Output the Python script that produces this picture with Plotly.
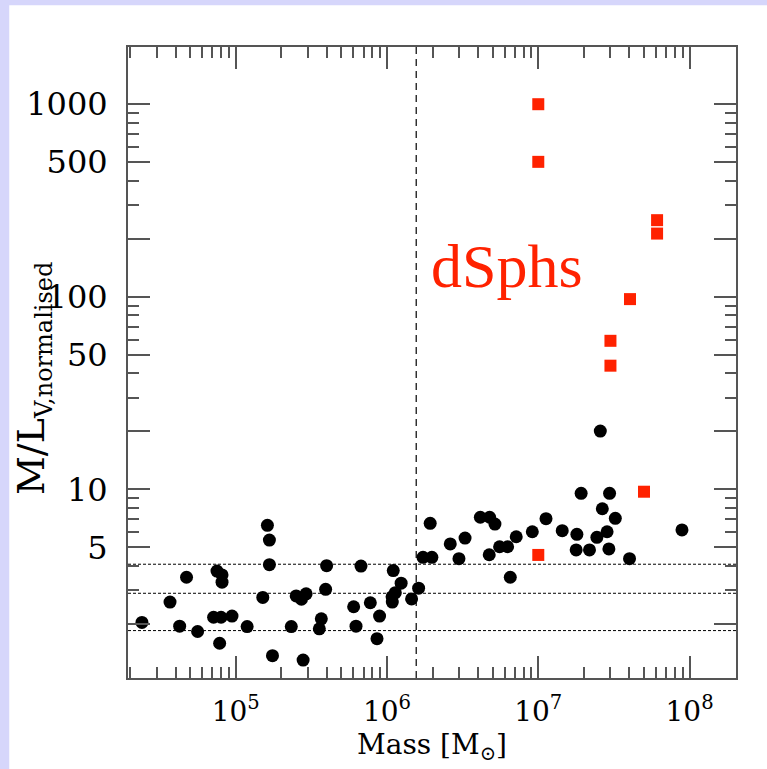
import plotly.graph_objects as go

# star clusters / UCDs (black circles)
cl_mass = [2.40e4, 3.68e4, 4.26e4, 4.73e4, 5.60e4, 7.52e4, 8.12e4, 8.12e4, 7.14e4, 8.0e4,
           9.45e4, 7.83e4, 1.19e5, 1.62e5, 1.67e5, 1.67e5, 1.51e5, 1.75e5, 2.33e5, 2.51e5,
           2.72e5, 2.92e5, 2.79e5, 3.68e5, 3.57e5, 3.99e5, 3.93e5, 6.02e5, 6.24e5, 6.73e5,
           7.76e5, 8.93e5, 8.59e5, 1.10e6, 1.24e6, 1.135e6, 1.08e6, 1.084e6, 1.454e6, 1.618e6,
           1.73e6, 1.98e6, 1.93e6, 2.62e6, 2.99e6, 3.28e6, 4.14e6, 4.77e6, 5.17e6, 4.74e6,
           5.55e6, 6.27e6, 7.15e6, 6.53e6, 9.13e6, 1.125e7, 1.44e7, 1.80e7, 1.92e7, 1.78e7,
           2.18e7, 2.44e7, 2.57e7, 2.65e7, 2.85e7, 2.93e7, 2.96e7, 3.23e7, 4.01e7, 8.91e7]
cl_ml = [2.04, 2.60, 1.95, 3.50, 1.83, 3.77, 3.60, 3.30, 2.17, 2.17,
         2.20, 1.59, 1.94, 6.51, 5.46, 4.07, 2.75, 1.37, 1.94, 2.80,
         2.69, 2.87, 1.30, 2.13, 1.89, 4.02, 3.03, 2.46, 1.95, 4.00,
         2.58, 2.20, 1.68, 3.79, 3.26, 2.91, 2.77, 2.60, 2.70, 3.07,
         4.44, 4.44, 6.67, 5.21, 4.37, 5.59, 7.17, 7.17, 6.61, 4.58,
         5.04, 5.04, 5.68, 3.50, 6.03, 7.05, 6.11, 5.85, 9.55, 4.85,
         4.85, 5.64, 20.1, 7.94, 6.03, 4.91, 9.55, 7.08, 4.37, 6.16]

# dwarf spheroidals (red squares)
dsph_mass = [1.0e7, 1.0e7, 6.1e7, 6.1e7, 4.04e7, 3.0e7, 3.0e7, 5.0e7, 1.0e7]
dsph_ml = [1000, 502, 250, 213, 97.3, 59.1, 43.9, 9.73, 4.57]

# reference lines
hlines_ml = [4.09, 2.89, 1.85]
vline_mass = 1.56e6

x_tick_vals = [1e5, 1e6, 1e7, 1e8]
x_tick_text = ["10<sup>5</sup>", "10<sup>6</sup>", "10<sup>7</sup>", "10<sup>8</sup>"]
y_tick_vals = [2, 5, 10, 20, 50, 100, 200, 500, 1000]
y_tick_text = ["", "5", "10", "", "50", "100", "", "500", "1000"]

x_minor = [m * 10 ** e for e in range(4, 9) for m in range(2, 10)]
y_minor = [m * 10 ** e for e in range(0, 4) for m in (3, 4, 6, 7, 8, 9)]

# axis ranges (log10)
x_range = [4.288, 8.307]
y_range = [0.021, 3.297]

LAV = "#d6d6fb"
AX = "#555555"
RED = "#ff2200"

fig = go.Figure()

# dotted horizontal lines across the full width
for v in hlines_ml:
    fig.add_trace(go.Scatter(x=[10 ** x_range[0], 10 ** x_range[1]], y=[v, v], mode="lines",
                             line=dict(color="black", width=1, dash="3px,2px"),
                             hoverinfo="skip", showlegend=False))
# dashed vertical line
fig.add_trace(go.Scatter(x=[vline_mass, vline_mass], y=[10 ** y_range[0], 10 ** y_range[1]],
                         mode="lines", line=dict(color="black", width=1.2, dash="7px,5px"),
                         hoverinfo="skip", showlegend=False))

fig.add_trace(go.Scatter(x=cl_mass, y=cl_ml, mode="markers",
                         marker=dict(symbol="circle", size=13, color="black"),
                         showlegend=False))
fig.add_trace(go.Scatter(x=dsph_mass, y=dsph_ml, mode="markers",
                         marker=dict(symbol="square", size=12, color=RED),
                         showlegend=False))

# lavender frame strips (left and top)
fig.add_shape(type="rect", xref="paper", yref="paper", x0=-0.22, x1=-0.1953,
              y0=-0.16, y1=1.08, fillcolor=LAV, line_width=0, layer="below")
fig.add_shape(type="rect", xref="paper", yref="paper", x0=-0.22, x1=1.06,
              y0=1.066, y1=1.08, fillcolor=LAV, line_width=0, layer="below")

fig.add_annotation(x=6.792, y=2.16, xref="x", yref="y", text="dSphs",
                   showarrow=False, xanchor="center", yanchor="middle",
                   font=dict(family="Liberation Serif", size=62, color=RED))
fig.add_annotation(x=-0.155, y=0.475, xref="paper", yref="paper",
                   text="M/L<sub><span style='font-size:24px'>V,normalised</span></sub>",
                   textangle=-90, showarrow=False, xanchor="center", yanchor="middle",
                   font=dict(family="DejaVu Serif", size=38, color="black"))

axis_common = dict(type="log", ticks="inside", ticklen=22, tickwidth=1.5, tickcolor=AX,
                   showline=True, linecolor=AX, linewidth=2, mirror="ticks",
                   showgrid=False, zeroline=False)

fig.update_xaxes(range=x_range, tickmode="array", tickvals=x_tick_vals,
                 ticktext=x_tick_text, ticklabelstandoff=7,
                 tickfont=dict(family="DejaVu Serif", size=28, color="black"),
                 minor=dict(tickmode="array", tickvals=x_minor, ticks="inside", ticklen=11,
                            tickwidth=1.5, tickcolor=AX, showgrid=False),
                 title=dict(text="Mass [M<sub>⊙</sub>]", standoff=8,
                            font=dict(family="DejaVu Serif", size=28, color="black")),
                 **axis_common)
fig.update_yaxes(range=y_range, tickmode="array", tickvals=y_tick_vals,
                 ticktext=y_tick_text, ticklabelstandoff=12,
                 tickfont=dict(family="DejaVu Serif", size=32, color="black"),
                 minor=dict(tickmode="array", tickvals=y_minor, ticks="inside", ticklen=11,
                            tickwidth=1.5, tickcolor=AX, showgrid=False),
                 **axis_common)

fig.update_layout(width=767, height=769, margin=dict(l=128, r=31, t=47, b=91),
                  paper_bgcolor="white", plot_bgcolor="white", showlegend=False)

fig.write_html("out.html", config={"displayModeBar": False},
               post_script="document.body.style.margin='0';document.body.style.overflow='hidden';")
